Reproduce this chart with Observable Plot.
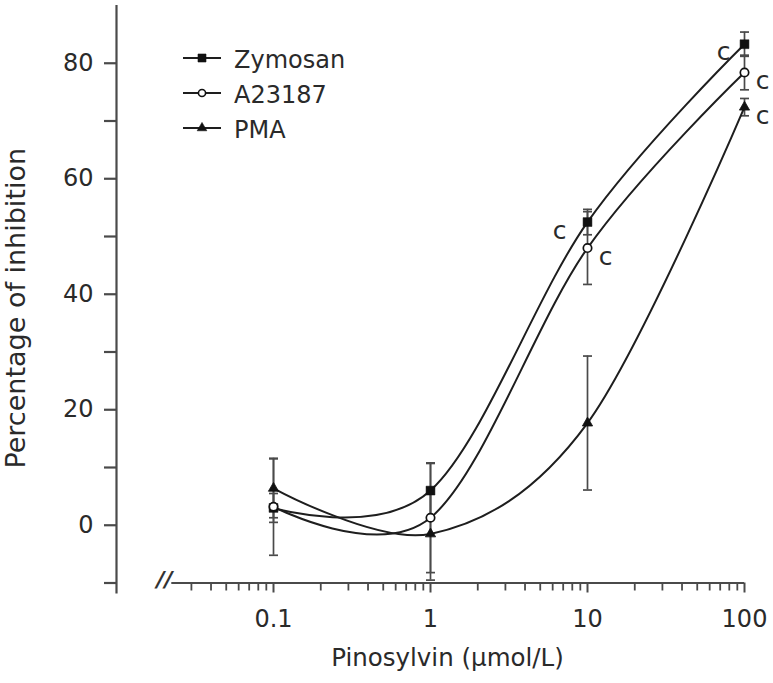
<!DOCTYPE html>
<html>
<head>
<meta charset="utf-8">
<script src="https://cdn.jsdelivr.net/npm/d3@7"></script>
<script src="https://cdn.jsdelivr.net/npm/@observablehq/plot@0.6"></script>
<style>
  body { margin: 0; background: #fff; }
  #wrap { position: relative; width: 773px; height: 683px; }
  #wrap svg { display: block; }
  #legend { position: absolute; left: 0; top: 0; }
</style>
</head>
<body>
<div id="wrap"></div>
<script>
// ---- data ----
const conc = [0.1, 1, 10, 100];
const seriesNames = ["Zymosan", "A23187", "PMA"];
const zymosanMean = [3.0, 6.0, 52.5, 83.3];
const zymosanSD   = [2.5, 4.7, 2.2, 2.1];
const a23187Mean  = [3.2, 1.3, 48.0, 78.4];
const a23187SD    = [8.4, 9.5, 6.3, 3.0];
const pmaMean     = [6.4, -1.5, 17.7, 72.4];
const pmaSD       = [5.1, 8.0, 11.6, 1.5];
const xMajorTicks = [0.1, 1, 10, 100];
const xMinorTicks = [0.03,0.04,0.05,0.06,0.07,0.08,0.09,
                     0.2,0.3,0.4,0.5,0.6,0.7,0.8,0.9,
                     2,3,4,5,6,7,8,9,
                     20,30,40,50,60,70,80,90];
const yTicks = [-10, 0, 10, 20, 30, 40, 50, 60, 70, 80];
const yLabelTicks = [0, 20, 40, 60, 80];
// significance marks ("c"): [series, concentration]
const sigLeft  = [["Zymosan", 10], ["Zymosan", 100]];
const sigRight = [["A23187", 10], ["A23187", 100], ["PMA", 100]];

// ---- build table ----
const means = {Zymosan: zymosanMean, A23187: a23187Mean, PMA: pmaMean};
const sds = {Zymosan: zymosanSD, A23187: a23187SD, PMA: pmaSD};
const rows = [];
for (const s of seriesNames) {
  conc.forEach((c, i) => rows.push({series: s, x: c, y: means[s][i], lo: means[s][i] - sds[s][i], hi: means[s][i] + sds[s][i]}));
}
const find = (s, c) => rows.find(r => r.series === s && r.x === c);
const sigL = sigLeft.map(([s, c]) => find(s, c));
const sigR = sigRight.map(([s, c]) => find(s, c));

const ink = "#1e1e1e";
const axisInk = "#4a4a4a";
const textInk = "#2a2a2a";
const font = "DejaVu Sans, Verdana, sans-serif";

const cap = { draw(ctx, size) { const h = Math.sqrt(size / Math.PI); ctx.moveTo(-h, 0); ctx.lineTo(h, 0); } };

const chart = Plot.plot({
  width: 773,
  height: 683,
  marginLeft: 116,
  marginRight: 29,
  marginTop: 5,
  marginBottom: 100.5,
  style: {fontFamily: font, fontSize: "24px", color: textInk, background: "white"},
  x: {type: "log", domain: [0.01, 100]},
  y: {domain: [-10, 90]},
  marks: [
    // axes lines
    Plot.ruleX([0.01], {y1: -11.9, y2: 90, stroke: axisInk, strokeWidth: 2.2}),
    Plot.ruleY([-10], {x1: 0.0225, x2: 100, stroke: axisInk, strokeWidth: 2.2}),
    Plot.axisY({ticks: yTicks, tickSize: 12, tickPadding: 11, stroke: axisInk, strokeWidth: 2.2,
      tickFormat: d => yLabelTicks.includes(d) ? String(d) : "", label: null, fill: textInk, fontSize: 24}),
    Plot.axisX({ticks: xMinorTicks, tickSize: 8, tickFormat: () => "", stroke: axisInk, strokeWidth: 1.8, label: null}),
    Plot.axisX({ticks: xMajorTicks, tickSize: 10, tickPadding: 17, stroke: axisInk, strokeWidth: 2,
      tickFormat: d => String(d), label: null, fill: textInk, fontSize: 24}),
    Plot.text(["//"], {frameAnchor: "bottom-left", dx: 40, dy: 4, fontSize: 22, fontStyle: "italic", fontWeight: "bold", fill: "#333"}),
    // axis titles
    Plot.text(["Percentage of inhibition"], {frameAnchor: "left", textAnchor: "middle", rotate: -90, dx: -100, dy: 14, fontSize: 27, fill: textInk}),
    Plot.text(["Pinosylvin (μmol/L)"], {frameAnchor: "bottom", textAnchor: "middle", dx: 17, dy: 82.5, fontSize: 24.5, fill: textInk}),
    // error bars
    Plot.ruleX(rows, {x: "x", y1: "lo", y2: "hi", stroke: axisInk, strokeWidth: 1.7}),
    Plot.dot(rows, {x: "x", y: "lo", symbol: cap, r: 4.5, stroke: axisInk, strokeWidth: 1.7}),
    Plot.dot(rows, {x: "x", y: "hi", symbol: cap, r: 4.5, stroke: axisInk, strokeWidth: 1.7}),
    // curves
    Plot.line(rows, {x: "x", y: "y", z: "series", curve: "cardinal", stroke: ink, strokeWidth: 2}),
    // markers
    Plot.dot(rows.filter(d => d.series === "Zymosan"), {x: "x", y: "y", symbol: "square", r: 5, fill: "#111", stroke: "#111", strokeWidth: 0.5}),
    Plot.dot(rows.filter(d => d.series === "A23187"), {x: "x", y: "y", symbol: "circle", r: 4.2, fill: "white", stroke: "#111", strokeWidth: 1.7}),
    Plot.dot(rows.filter(d => d.series === "PMA"), {x: "x", y: "y", symbol: "triangle", r: 3.8, fill: "#111", stroke: "#111", strokeWidth: 0.8}),
    // significance labels
    Plot.text(sigL.filter(d => d.x === 10), {x: "x", y: "y", text: () => "c", dx: -28, dy: 9, fontSize: 25, fill: textInk}),
    Plot.text(sigL.filter(d => d.x === 100), {x: "x", y: "y", text: () => "c", dx: -21, dy: 8, fontSize: 25, fill: textInk}),
    Plot.text(sigR, {x: "x", y: "y", text: () => "c", dx: 18, dy: 9, fontSize: 25, fill: textInk})
  ]
});
const wrap = document.getElementById("wrap");
wrap.appendChild(chart);

// ---- legend overlay ----
const leg = d3.select(wrap).append("svg").attr("id", "legend").attr("width", 773).attr("height", 683);
const legY = [58, 93, 128];
seriesNames.forEach((s, i) => {
  const g = leg.append("g").attr("transform", `translate(0,${legY[i]})`);
  g.append("line").attr("x1", 183).attr("x2", 221).attr("y1", 0).attr("y2", 0).attr("stroke", ink).attr("stroke-width", 1.8);
  const sym = d3.symbol().type(s === "Zymosan" ? d3.symbolSquare : s === "A23187" ? d3.symbolCircle : d3.symbolTriangle)
    .size(s === "Zymosan" ? 64 : s === "A23187" ? 40 : 40);
  g.append("path").attr("d", sym()).attr("transform", "translate(202,0)")
    .attr("fill", s === "A23187" ? "white" : "#111").attr("stroke", "#111").attr("stroke-width", s === "A23187" ? 1.6 : 0.6);
  g.append("text").attr("x", 234).attr("y", 9.5).attr("font-family", font).attr("font-size", 24).attr("fill", textInk).text(s);
});
</script>
</body>
</html>
